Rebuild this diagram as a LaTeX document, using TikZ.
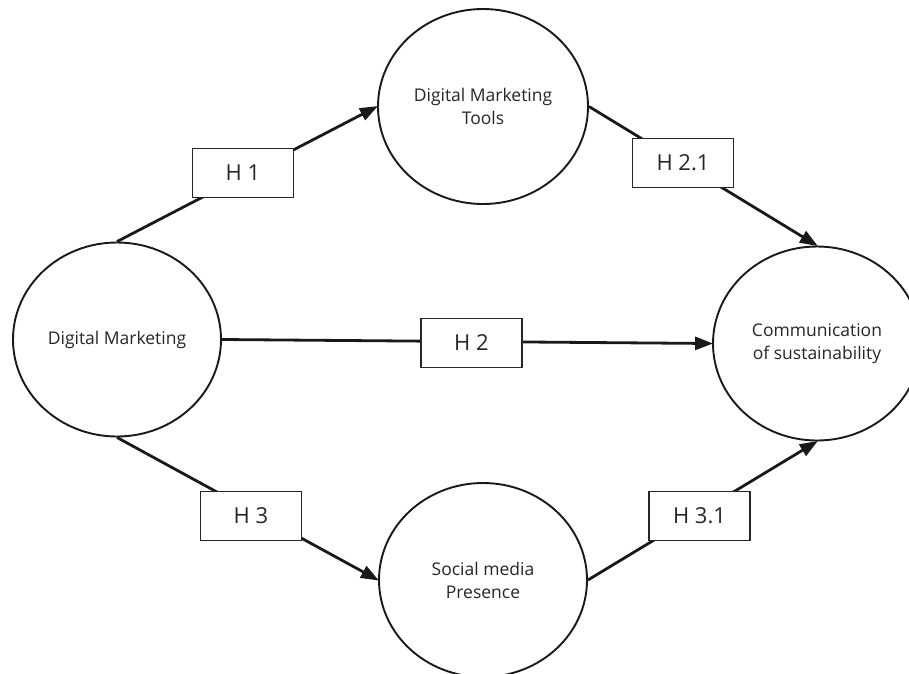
\documentclass[tikz,border=0pt]{standalone}
\usepackage{fontspec}
\setmainfont{Open Sans}
\usetikzlibrary{shapes.geometric,arrows.meta}
\definecolor{txt}{HTML}{262626}
\tikzset{
  bubble/.style={draw=black!90, line width=1.9pt, ellipse, inner sep=0pt,
    minimum width=208pt, minimum height=194pt, align=center, text=txt,
    font=\fontsize{17.5}{23}\selectfont},
  hbox/.style={draw=black!85, line width=1.9pt, fill=white, rectangle,
    minimum width=101pt, minimum height=49pt, inner sep=0pt, text=txt,
    font=\fontsize{22}{26}\selectfont},
  link/.style={line width=2.8pt, draw=black!90,
    -{Triangle[length=18pt,width=13pt]}, shorten >=-1pt}
}
\begin{document}
\begin{tikzpicture}[x=1pt,y=-1pt]
\useasboundingbox (0,0) rectangle (909,673);
\node[bubble] (dm) at (117,339.5) {Digital Marketing};
\node[bubble, minimum width=210pt, minimum height=195pt] (tools) at (483,106.5) {Digital Marketing\\Tools};
\node[bubble] (com) at (817,343.5) {Communication\\of sustainability};
\node[bubble] (smp) at (483,580) {Social media\\Presence};

\draw[link] (dm.north) -- (tools.west);
\draw[link] (tools.east) -- (com.north);
\draw[link] (dm.east) -- (com.west);
\draw[link] (dm.south) -- (smp.west);
\draw[link] (smp.east) -- (com.south);

\node[hbox] (h1) at (243,173) {H 1};
\node[hbox] (h21) at (683,163) {H 2.1};
\node[hbox] (h2) at (471.5,343) {H 2};
\node[hbox] (h3) at (251,516) {H 3};
\node[hbox] (h31) at (699.5,516) {H 3.1};
\end{tikzpicture}
\end{document}
